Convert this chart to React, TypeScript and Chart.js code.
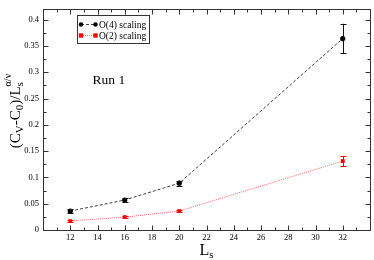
import React, { useEffect, useRef } from "react";
import { Chart, registerables } from "chart.js";

Chart.register(...registerables);

const FONT = '"Liberation Serif", "Times New Roman", serif';

// Data
const sizes = [12, 16, 20, 32];
const o4Values = [0.036, 0.057, 0.089, 0.364];
const o4Errors = [0.003, 0.003, 0.005, 0.028];
const o2Values = [0.017, 0.0245, 0.036, 0.131];
const o2Errors = [0.0015, 0.0015, 0.002, 0.0098];
const seriesLabels = ["O(4) scaling", "O(2) scaling"];
const xMin = 10, xMax = 34, xStep = 2, xMinor = 1;
const yMin = 0, yMax = 0.42, yStep = 0.05, yMinor = 0.025;
const xTickLabels = [12, 14, 16, 18, 20, 22, 24, 26, 28, 30, 32];
const yTickLabels = [0, 0.05, 0.1, 0.15, 0.2, 0.25, 0.3, 0.35, 0.4];
const annotation = "Run 1";

const RED = "#ff0000";
const FRAME = "#333333";
const BLACK_LINE = "rgba(0,0,0,0.75)";
const RED_LINE = "rgba(255,0,0,0.6)";

const errorBarsPlugin = {
  id: "errorBars",
  afterDatasetsDraw(chart: any) {
    const { ctx } = chart;
    const ys = chart.scales.y;
    chart.data.datasets.forEach((ds: any, i: number) => {
      const meta = chart.getDatasetMeta(i);
      ctx.save();
      ctx.strokeStyle = ds.errColor;
      ctx.lineWidth = 1;
      meta.data.forEach((pt: any, j: number) => {
        const v = ds.data[j].y;
        const e = ds.errors[j];
        const x = Math.round(pt.x) + 0.5;
        const y1 = ys.getPixelForValue(v + e);
        const y2 = ys.getPixelForValue(v - e);
        ctx.beginPath();
        ctx.moveTo(x, y1);
        ctx.lineTo(x, y2);
        ctx.moveTo(x - 3, Math.round(y1) + 0.5);
        ctx.lineTo(x + 3, Math.round(y1) + 0.5);
        ctx.moveTo(x - 3, Math.round(y2) + 0.5);
        ctx.lineTo(x + 3, Math.round(y2) + 0.5);
        ctx.stroke();
      });
      ctx.restore();
    });
  },
};

const decorPlugin = {
  id: "decor",
  afterDraw(chart: any) {
    const { ctx, chartArea } = chart;
    const { left, right, top, bottom } = chartArea;
    const xs = chart.scales.x;
    const ys = chart.scales.y;
    ctx.save();
    ctx.strokeStyle = FRAME;
    ctx.lineWidth = 1;
    const L = Math.round(left) + 0.5;
    const R = Math.round(right) + 0.5;
    const T = Math.round(top) + 0.5;
    const B = Math.round(bottom) + 0.5;
    ctx.strokeRect(L, T, R - L, B - T);
    ctx.beginPath();
    for (let v = xMin; v <= xMax + 1e-9; v += xMinor) {
      const major = Math.abs(v / xStep - Math.round(v / xStep)) < 1e-6;
      const len = major ? 5 : 3;
      const px = Math.round(xs.getPixelForValue(v)) + 0.5;
      ctx.moveTo(px, B);
      ctx.lineTo(px, B - len);
      ctx.moveTo(px, T);
      ctx.lineTo(px, T + len);
    }
    for (let v = yMin; v <= yMax + 1e-9; v += yMinor) {
      const major = Math.abs(v / yStep - Math.round(v / yStep)) < 1e-6;
      const len = major ? 5 : 3;
      const py = Math.round(ys.getPixelForValue(v)) + 0.5;
      ctx.moveTo(L, py);
      ctx.lineTo(L + len, py);
      ctx.moveTo(R, py);
      ctx.lineTo(R - len, py);
    }
    ctx.stroke();

    // Legend
    ctx.strokeStyle = FRAME;
    ctx.strokeRect(77.5, 15.5, 72, 28);
    const rows = [
      { y: 24.5, color: "#000", line: BLACK_LINE, dash: [3, 2], shape: "circle", label: seriesLabels[0] },
      { y: 35.5, color: RED, line: RED_LINE, dash: [1, 1], shape: "rect", label: seriesLabels[1] },
    ];
    rows.forEach((r) => {
      ctx.save();
      ctx.strokeStyle = r.line;
      ctx.setLineDash(r.dash);
      ctx.beginPath();
      ctx.moveTo(81, r.y);
      ctx.lineTo(95, r.y);
      ctx.stroke();
      ctx.restore();
      ctx.fillStyle = r.color;
      [81, 95.5].forEach((mx) => {
        ctx.beginPath();
        if (r.shape === "circle") {
          ctx.arc(mx, r.y, 2.2, 0, Math.PI * 2);
        } else {
          ctx.rect(mx - 2.2, r.y - 2.2, 4.4, 4.4);
        }
        ctx.fill();
      });
      ctx.fillStyle = "#000";
      ctx.font = `9.5px ${FONT}`;
      ctx.textAlign = "left";
      ctx.textBaseline = "middle";
      ctx.fillText(r.label, 99, r.y + 0.5);
    });

    // Annotation
    ctx.fillStyle = "#000";
    ctx.font = `13.5px ${FONT}`;
    ctx.textAlign = "left";
    ctx.textBaseline = "alphabetic";
    ctx.fillText(annotation, 92.5, 83.5);

    // X title L_s
    ctx.font = `16px ${FONT}`;
    ctx.textAlign = "left";
    const lW = ctx.measureText("L").width;
    ctx.font = `11px ${FONT}`;
    const sW = ctx.measureText("s").width;
    const startX = (left + right) / 2 - (lW + sW) / 2;
    ctx.font = `16px ${FONT}`;
    ctx.fillText("L", startX, 255);
    ctx.font = `11px ${FONT}`;
    ctx.fillText("s", startX + lW, 258);

    // Y title
    const segs: { t: string; size: number; dy: number; stack?: boolean }[] = [
      { t: "(C", size: 15, dy: 0 },
      { t: "V", size: 11, dy: 3 },
      { t: "-C", size: 15, dy: 0 },
      { t: "0", size: 11, dy: 3 },
      { t: ")/L", size: 15, dy: 0 },
      { t: "s", size: 11, dy: 3, stack: true },
      { t: "α/ν", size: 10, dy: -9 },
    ];
    let total = 0;
    const widths: number[] = [];
    segs.forEach((s) => {
      ctx.font = `${s.size}px ${FONT}`;
      widths.push(ctx.measureText(s.t).width);
    });
    segs.forEach((s, i) => {
      if (!s.stack) total += widths[i];
    });
    ctx.save();
    ctx.translate(20, 111);
    ctx.rotate(-Math.PI / 2);
    let cx = -total / 2;
    segs.forEach((s, i) => {
      ctx.font = `${s.size}px ${FONT}`;
      ctx.fillText(s.t, cx, s.dy);
      if (!s.stack) cx += widths[i];
    });
    ctx.restore();

    ctx.restore();
  },
};

export default function App() {
  const ref = useRef<HTMLCanvasElement | null>(null);
  useEffect(() => {
    if (!ref.current) return;
    const chart = new Chart(ref.current, {
      type: "line",
      data: {
        datasets: [
          {
            label: seriesLabels[0],
            data: sizes.map((x, i) => ({ x, y: o4Values[i] })),
            borderColor: BLACK_LINE,
            backgroundColor: "#000",
            pointBackgroundColor: "#000",
            borderWidth: 1,
            borderDash: [3, 2],
            pointStyle: "circle",
            pointRadius: 2.6,
            pointBorderWidth: 0,
            errors: o4Errors,
            errColor: "#111",
          } as any,
          {
            label: seriesLabels[1],
            data: sizes.map((x, i) => ({ x, y: o2Values[i] })),
            borderColor: RED_LINE,
            backgroundColor: RED,
            pointBackgroundColor: RED,
            borderWidth: 1,
            borderDash: [1, 1],
            pointStyle: "rect",
            pointRadius: 2.7,
            pointBorderWidth: 0,
            errors: o2Errors,
            errColor: RED,
          } as any,
        ],
      },
      options: {
        animation: false,
        responsive: false,
        maintainAspectRatio: false,
        layout: { padding: { top: 1, right: 2, left: 0, bottom: 0 } },
        plugins: { legend: { display: false }, tooltip: { enabled: false } },
        scales: {
          x: {
            type: "linear",
            min: xMin,
            max: xMax,
            grid: { display: false, drawTicks: false },
            border: { display: false },
            ticks: {
              stepSize: xStep,
              padding: 3,
              color: "#000",
              font: { family: FONT, size: 8.5 },
              maxRotation: 0,
              autoSkip: false,
              callback: (v: any) => (xTickLabels.includes(Number(v)) ? String(v) : null),
            },
            afterFit: (s: any) => {
              s.height = 30;
            },
          },
          y: {
            type: "linear",
            min: yMin,
            max: yMax,
            grid: { display: false, drawTicks: false },
            border: { display: false },
            ticks: {
              stepSize: yStep,
              padding: 4,
              color: "#000",
              font: { family: FONT, size: 8.5 },
              autoSkip: false,
              callback: (v: any) => {
                const n = Number(v);
                const hit = yTickLabels.find((t) => Math.abs(t - n) < 1e-6);
                return hit === undefined ? null : String(hit);
              },
            },
            afterFit: (s: any) => {
              s.width = 43;
            },
          },
        },
      },
      plugins: [errorBarsPlugin, decorPlugin],
    });
    return () => chart.destroy();
  }, []);
  return (
    <div style={{ position: "absolute", left: 0, top: 0, width: 374, height: 260 }}>
      <canvas ref={ref} width={374} height={260} style={{ width: 374, height: 260 }} />
    </div>
  );
}
